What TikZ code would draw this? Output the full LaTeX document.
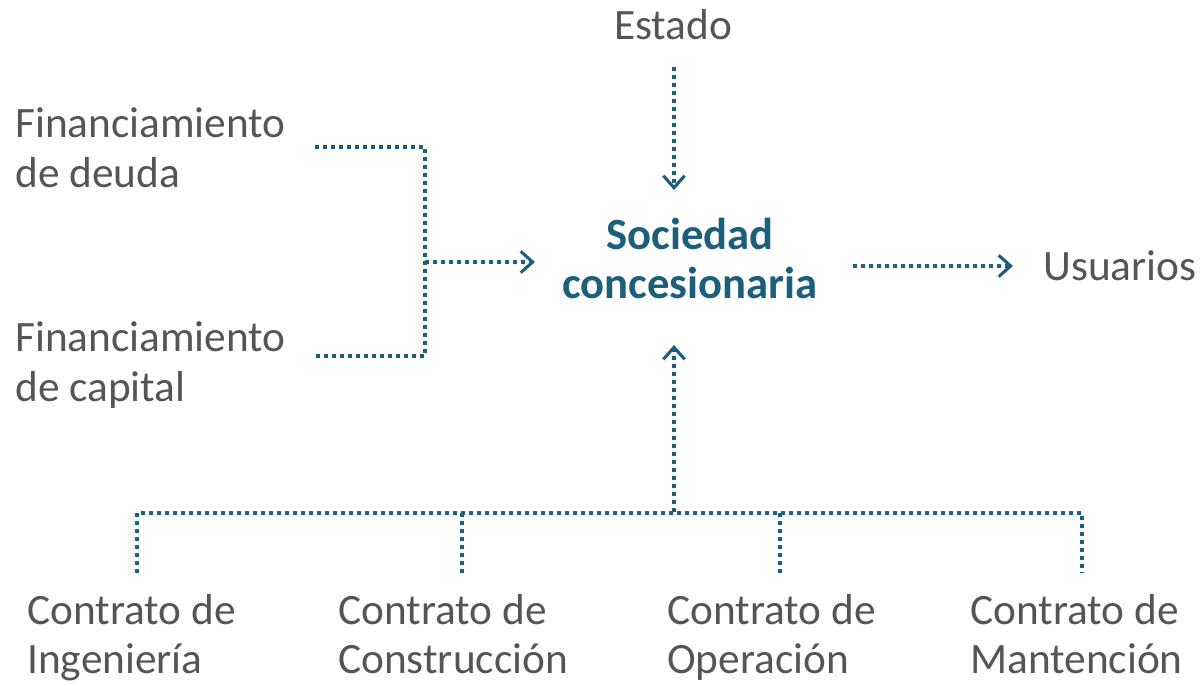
\documentclass[tikz,border=0pt]{standalone}
\usepackage{fontspec}
\setmainfont{Carlito}
\usetikzlibrary{arrows.meta,calc}
\definecolor{teal}{HTML}{1B5F7D}
\definecolor{txt}{HTML}{555555}
\begin{document}
\begin{tikzpicture}[x=0.75pt,y=-0.75pt,
  lbl/.style={text=txt,font=\fontsize{32.5}{37}\selectfont,inner sep=0pt,align=left},
  botlbl/.style={lbl,font=\fontsize{32.5}{36.5}\selectfont},
  mainlbl/.style={text=teal,font=\bfseries\fontsize{33.5}{36.5}\selectfont,inner sep=0pt,align=center},
  dotline/.style={draw=teal,line width=2.7pt,dash pattern=on 2.7pt off 3.3pt},
  arr/.style={dotline,-{Straight Barb[length=9pt,width=16pt,line width=2.3pt]}}]
\useasboundingbox (0,0) rectangle (1202,685);
% nodes (base anchor = baseline of the last line)
\node[lbl,anchor=base] (estado) at (673,40) {Estado};
\node[lbl,anchor=base west] (fd) at (15,187) {Financiamiento\\de deuda};
\node[lbl,anchor=base west] (fc) at (15,401) {Financiamiento\\de capital};
\node[mainlbl,anchor=base] (soc) at (690,298) {Sociedad\\concesionaria};
\node[lbl,anchor=base west] (us) at (1043,280) {Usuarios};
\node[botlbl,anchor=base west] (c1) at (27,673) {Contrato de\\Ingeniería};
\node[botlbl,anchor=base west] (c2) at (338,673) {Contrato de\\Construcción};
\node[botlbl,anchor=base west] (c3) at (667,673) {Contrato de\\Operación};
\node[botlbl,anchor=base west] (c4) at (970,673) {Contrato de\\Mantención};
% joints
\coordinate (e1) at (674,67);
\coordinate (e2) at (674,190);
\coordinate (fd1) at (315,147);
\coordinate (fd2) at (425,147);
\coordinate (fc1) at (315,356);
\coordinate (fc2) at (425,356);
\coordinate (fm) at (425,262);
\coordinate (sw) at (535,262);
\coordinate (se) at (853,266);
\coordinate (ue) at (1013,266);
\coordinate (b0) at (674,512);
\coordinate (bt) at (674,345);
\coordinate (h1) at (137,513);
\coordinate (h2) at (462,513);
\coordinate (h3) at (780,513);
\coordinate (h4) at (1082,513);
\coordinate (d1) at (137,573);
\coordinate (d2) at (462,573);
\coordinate (d3) at (780,573);
\coordinate (d4) at (1082,573);
% connectors
\draw[arr] (e1) -- (e2);
\draw[dotline] (fd1) -- (fd2) -- (fc2) -- (fc1);
\draw[arr] (fm) -- (sw);
\draw[arr] (se) -- (ue);
\draw[arr] (b0) -- (bt);
\draw[dotline] (d1) -- (h1) -- (h4) -- (d4);
\draw[dotline] (h2) -- (d2);
\draw[dotline] (h3) -- (d3);
\end{tikzpicture}
\end{document}
